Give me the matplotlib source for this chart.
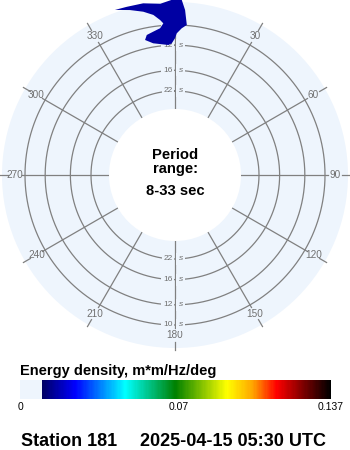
import numpy as np
import matplotlib
matplotlib.use('Agg')
import matplotlib.pyplot as plt
from matplotlib.colors import LinearSegmentedColormap, Normalize
from matplotlib.cm import ScalarMappable
from matplotlib.transforms import offset_copy

plt.rcParams['font.family'] = ['Liberation Sans', 'DejaVu Sans']

# ---------------- data ----------------
direction_ticks = [0, 30, 60, 90, 120, 150, 180, 210, 240, 270, 300, 330]
direction_labels = ['0', '30', '60', '90', '120', '150', '180', '210', '240', '270', '300', '330']
period_rings = [10, 12, 16, 22]          # seconds
period_ring_labels = ['10', '12', '16', '22']
period_range = (8, 33)

# outline of the energy-density contour: direction (deg, clockwise from N) and period (s)
spec_dir = [-20.0, -16.0, -10.5, -4.9, 0.6, 2.0, 3.5, 4.5, 2.6, 0.7, 0.0, -1.4, -2.9,
            -9.4, -12.5, -11.4, -8.6, -5.8, -4.4, -5.5, -7.7, -11.0, -15.3]
spec_period = [8.25, 8.29, 8.31, 8.47, 8.18, 8.18, 8.88, 9.96, 10.27, 10.74, 11.23, 11.78,
               11.96, 11.58, 11.07, 10.63, 10.43, 10.21, 9.83, 9.55, 9.13, 8.81, 8.52]
spec_energy = 0.016

cbar_min, cbar_max = 0.0, 0.137
cbar_ticks = [0, 0.07, 0.137]
cbar_tick_labels = ['0', '0.07', '0.137']
cbar_title = 'Energy density, m*m/Hz/deg'
station = 'Station 181'
timestamp = '2025-04-15 05:30 UTC'

# ---------------- styling / layout ----------------
DISK = '#EEF5FD'
GRID = '#808080'
LABEL = '#707070'
W, H = 350, 450
CX, CY, R_OUT, R_IN = 175, 175, 173, 66


def fpx(px):
    # radial pixel distance -> frequency (Hz) on this chart's radial scale
    return (px - 29.0) / 1210.0


fig = plt.figure(figsize=(W / 100, H / 100), dpi=100)
fig.patch.set_facecolor('white')
ax = fig.add_axes([(CX - R_OUT) / W, (H - CY - R_OUT) / H, 2 * R_OUT / W, 2 * R_OUT / H],
                  projection='polar')
ax.set_theta_zero_location('N')
ax.set_theta_direction(-1)
ax.set_rorigin(fpx(0))
ax.set_ylim(fpx(R_IN), fpx(R_OUT))
ax.set_facecolor(DISK)
ax.patch.set_edgecolor('none')
ax.grid(False)
ax.set_xticks([])
ax.set_yticks([])
for sp in ax.spines.values():
    sp.set_color('none')
    sp.set_linewidth(0)

# rings
th = np.linspace(0, 2 * np.pi, 721)
for T in period_rings:
    ax.plot(th, np.full_like(th, 1.0 / T), color=GRID, lw=0.9, zorder=2)

# spokes, labels and outer ticks
for d, lab in zip(direction_ticks, direction_labels):
    t = np.deg2rad(d)
    ax.plot([t, t], [fpx(R_IN), fpx(153)], color=GRID, lw=0.9, zorder=2)
    ax.plot([t, t], [fpx(167), fpx(175)], color=GRID, lw=0.9, zorder=2, clip_on=False)
    ax.text(t, fpx(160), lab, ha='center', va='center', fontsize=7.2, color=LABEL, zorder=3,
            clip_on=False)

# period labels on the 0 and 180 spokes
tl = offset_copy(ax.transData, fig=fig, x=-2.5, y=0, units='dots')
tr = offset_copy(ax.transData, fig=fig, x=3.5, y=0, units='dots')
for ang in (0, 180):
    t = np.deg2rad(ang)
    for T, lab in zip(period_rings, period_ring_labels):
        ax.text(t, 1.0 / T, lab, transform=tl, ha='right', va='center', fontsize=6,
                color=LABEL, zorder=3,
                bbox=dict(boxstyle='square,pad=0.2', fc=DISK, ec='none'))
        ax.text(t, 1.0 / T, 's', transform=tr, ha='left', va='center', fontsize=6,
                color=LABEL, zorder=3, style='italic',
                bbox=dict(boxstyle='square,pad=0.3', fc=DISK, ec='none'))

# colormap
cmap = LinearSegmentedColormap.from_list('wave', [
    (0.0, DISK), (0.0675, DISK), (0.068, '#000060'), (0.177, '#0000FF'),
    (0.338, '#00FFFF'), (0.5, '#008000'), (0.666, '#FFFF00'), (0.749, '#FFA500'),
    (0.826, '#FF0000'), (0.91, '#800000'), (1.0, '#000000')], N=256)
norm = Normalize(cbar_min, cbar_max)

# energy contour (not clipped to the disk, as in the original)
ax.fill(np.deg2rad(spec_dir), 1.0 / np.asarray(spec_period), color=cmap(norm(spec_energy)),
        lw=0, zorder=5, clip_on=False)

# center text
fig.text(CX / W, 1 - 159 / H, 'Period', ha='center', va='baseline', fontsize=10.6,
         fontweight='bold')
fig.text(CX / W, 1 - 173.5 / H, 'range:', ha='center', va='baseline', fontsize=10.6,
         fontweight='bold')
fig.text(CX / W, 1 - 195 / H, f'{period_range[0]}-{period_range[1]} sec', ha='center',
         va='baseline', fontsize=10.6, fontweight='bold')

# colorbar
fig.text(20 / W, 1 - 375 / H, cbar_title, ha='left', va='baseline', fontsize=10.5,
         fontweight='bold')
cax = fig.add_axes([20 / W, 1 - 399 / H, 311 / W, 19 / H])
cb = fig.colorbar(ScalarMappable(norm=norm, cmap=cmap), cax=cax, orientation='horizontal')
cb.outline.set_visible(False)
cax.set_xticks(cbar_ticks)
cax.set_xticklabels(cbar_tick_labels)
cax.tick_params(length=0, pad=2.5, labelsize=7.5)

# footer
fig.text(21 / W, 1 - 445.5 / H, station, ha='left', va='baseline', fontsize=13,
         fontweight='bold')
fig.text(140 / W, 1 - 445.5 / H, timestamp, ha='left', va='baseline', fontsize=13,
         fontweight='bold')

fig.savefig('out.png', dpi=100)
